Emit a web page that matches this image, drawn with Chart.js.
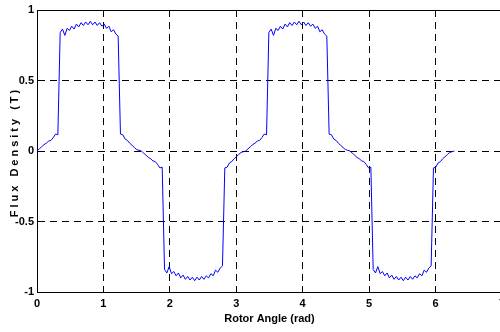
<!DOCTYPE html>
<html>
<head>
<meta charset="utf-8">
<script src="https://cdn.jsdelivr.net/npm/chart.js@4.4.1/dist/chart.umd.min.js"></script>
<style>
html, body { margin: 0; padding: 0; background: #fff; overflow: hidden; }
#wrap { width: 510px; height: 332px; position: relative; }
</style>
</head>
<body>
<div id="wrap"><canvas id="cnv"></canvas></div>
<script>
(function(){

    // sampled every 2 degrees from 0 to 2*pi (181 samples)
    var sampleStep = Math.PI / 90;

    var fluxDensity = [
        0.000, 0.015, 0.030, 0.045, 0.055, 0.070, 0.075, 0.095, 0.120, 0.115,
        0.840, 0.865, 0.820, 0.870, 0.855, 0.885, 0.865, 0.900, 0.880, 0.910,
        0.890, 0.915, 0.895, 0.920, 0.895, 0.915, 0.890, 0.910, 0.885, 0.900,
        0.870, 0.885, 0.845, 0.860, 0.830, 0.815, 0.120, 0.115, 0.085, 0.075,
        0.055, 0.040, 0.025, 0.010, 0.005,
        0.000, -0.015, -0.030, -0.045, -0.055, -0.070, -0.075, -0.095, -0.120, -0.115,
        -0.840, -0.865, -0.820, -0.870, -0.855, -0.885, -0.865, -0.900, -0.880, -0.910,
        -0.890, -0.915, -0.895, -0.920, -0.895, -0.915, -0.890, -0.910, -0.885, -0.900,
        -0.870, -0.885, -0.845, -0.860, -0.830, -0.815, -0.120, -0.115, -0.085, -0.075,
        -0.055, -0.040, -0.025, -0.010, -0.005,
        0.000, 0.015, 0.030, 0.045, 0.055, 0.070, 0.075, 0.095, 0.120, 0.115,
        0.840, 0.865, 0.820, 0.870, 0.855, 0.885, 0.865, 0.900, 0.880, 0.910,
        0.890, 0.915, 0.895, 0.920, 0.895, 0.915, 0.890, 0.910, 0.885, 0.900,
        0.870, 0.885, 0.845, 0.860, 0.830, 0.815, 0.120, 0.115, 0.085, 0.075,
        0.055, 0.040, 0.025, 0.010, 0.005,
        0.000, -0.015, -0.030, -0.045, -0.055, -0.070, -0.075, -0.095, -0.120, -0.115,
        -0.840, -0.865, -0.820, -0.870, -0.855, -0.885, -0.865, -0.900, -0.880, -0.910,
        -0.890, -0.915, -0.895, -0.920, -0.895, -0.915, -0.890, -0.910, -0.885, -0.900,
        -0.870, -0.885, -0.845, -0.860, -0.830, -0.815, -0.120, -0.115, -0.085, -0.075,
        -0.055, -0.040, -0.025, -0.010, -0.005,
        0.000
    ];

    var xLabel = "Rotor Angle (rad)";
    var yLabel = "Flux Density (T)";

    var points = fluxDensity.map(function(v, i){ return {x: i * sampleStep, y: v}; });

    var fontFam = "'Liberation Sans Narrow', 'Liberation Sans', Arial, sans-serif";

    // box line on top/right + spaced y title like matlab
    var matlabBits = {
        id: 'matlabBits',
        beforeDatasetsDraw: function(chart){
            var a = chart.chartArea, ctx = chart.ctx;
            ctx.save();
            ctx.strokeStyle = '#000';
            ctx.lineWidth = 1;
            ctx.beginPath();
            ctx.moveTo(a.left, Math.round(a.top) + 0.5);
            ctx.lineTo(a.right, Math.round(a.top) + 0.5);
            ctx.lineTo(a.right, a.bottom);
            ctx.stroke();
            ctx.restore();
        },
        afterDraw: function(chart){
            var a = chart.chartArea, ctx = chart.ctx;
            ctx.save();
            ctx.translate(15, (a.top + a.bottom) / 2 + 1);
            ctx.rotate(-Math.PI / 2);
            ctx.font = "bold 11px " + fontFam;
            ctx.letterSpacing = '3px';
            ctx.fillStyle = '#000';
            ctx.textAlign = 'center';
            ctx.textBaseline = 'middle';
            ctx.fillText(chart.options.scales.y.title.text, 0, 0);
            ctx.restore();
        }
    };

    var myChart = new Chart(document.getElementById('cnv'), {
        type: 'line',
        data: {
            datasets: [{
                data: points,
                borderColor: '#0000ff',
                borderWidth: 1,
                pointRadius: 0,
                tension: 0,
                fill: false
            }]
        },
        options: {
            responsive: true,
            maintainAspectRatio: false,
            animation: false,
            events: [],
            layout: { padding: { top: 10, right: 8, left: 0, bottom: 0 } },
            plugins: { legend: { display: false }, tooltip: { enabled: false } },
            scales: {
                x: {
                    type: 'linear',
                    min: 0, max: 7,
                    afterFit: function(s){ s.height = 40; },
                    ticks: { stepSize: 1, color: '#000', padding: 5, maxRotation: 0,
                             font: { family: fontFam, size: 11, weight: 'bold' } },
                    grid: { color: '#000', lineWidth: 1, drawTicks: false, borderDash: [7, 5] },
                    border: { display: true, color: '#000', width: 1, dash: [7, 5] },
                    title: { display: true, text: xLabel, color: '#000', padding: { top: 0, bottom: 6 },
                             font: { family: fontFam, size: 11, weight: 'bold' } }
                },
                y: {
                    min: -1, max: 1,
                    afterFit: function(s){ s.width = 37; },
                    ticks: { stepSize: 0.5, color: '#000', padding: 3,
                             callback: function(v){ return String(v); },
                             font: { family: fontFam, size: 11, weight: 'bold' } },
                    grid: { color: '#000', lineWidth: 1, drawTicks: false, borderDash: [7, 5] },
                    border: { display: true, color: '#000', width: 1, dash: [7, 5] },
                    title: { display: false, text: yLabel }
                }
            }
        },
        plugins: [matlabBits]
    });

})();
</script>
</body>
</html>
